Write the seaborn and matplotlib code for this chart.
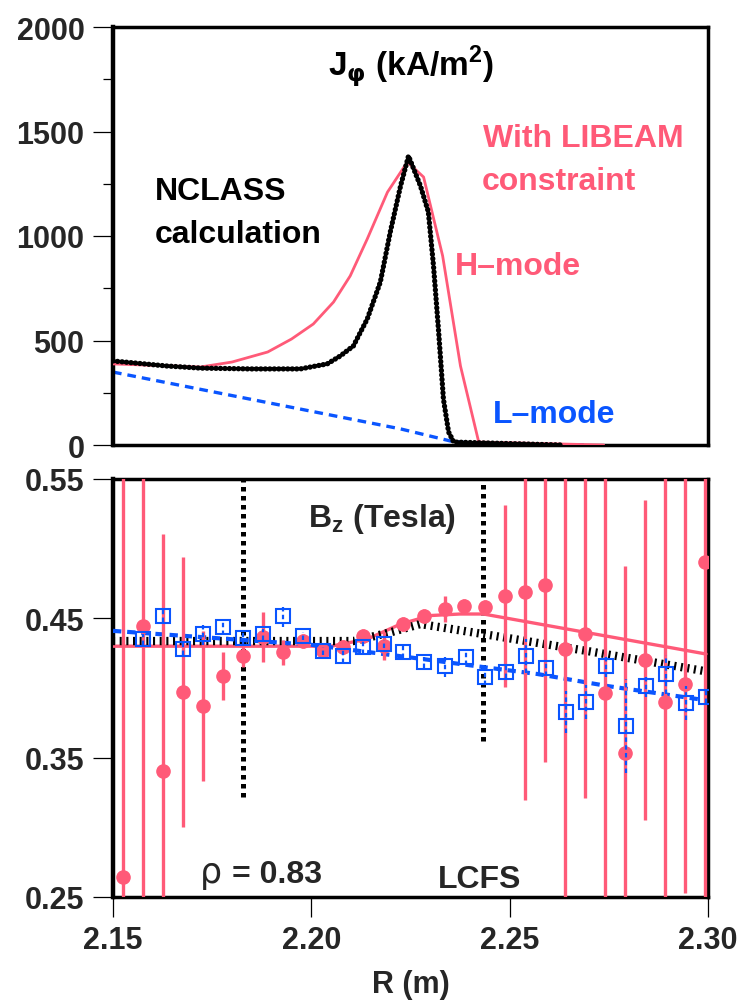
import numpy as np
import pandas as pd
import matplotlib
matplotlib.use("Agg")
import matplotlib.pyplot as plt
from matplotlib import font_manager
from matplotlib.ticker import MultipleLocator, FixedLocator
import seaborn as sns

# ---------------- upper panel: J_phi (kA/m^2) versus R (m) ----------------
r_hmode = [2.1500, 2.1720, 2.1800, 2.1890, 2.1950, 2.2005, 2.2056, 2.2098,
           2.2141, 2.2192, 2.2242, 2.2283, 2.2331, 2.2376, 2.2422, 2.2737]
j_hmode = [388, 373, 397, 445, 507, 579, 684, 809,
           986, 1210, 1354, 1282, 905, 378, 14, 0]

r_nclass = [2.1500, 2.1636, 2.1720, 2.1846, 2.1972, 2.2040, 2.2073, 2.2106,
            2.2141, 2.2174, 2.2199, 2.2225, 2.2245, 2.2275, 2.2295, 2.2308,
            2.2321, 2.2333, 2.2346, 2.2359, 2.2629]
j_nclass = [402, 378, 368, 364, 364, 388, 426, 474,
            603, 780, 1019, 1240, 1383, 1240, 1115, 857,
            540, 220, 62, 14, 0]

r_lmode = [2.1500, 2.1972, 2.2225, 2.2351, 2.2420, 2.2697]
j_lmode = [349, 172, 77, 19, 5, 0]

# ---------------- lower panel: B_z (Tesla) versus R (m) ----------------
r_libeam = [2.1525, 2.1576, 2.1626, 2.1677, 2.1727, 2.1778, 2.1828, 2.1879,
            2.1929, 2.1980, 2.2030, 2.2081, 2.2131, 2.2182, 2.2232, 2.2283,
            2.2336, 2.2386, 2.2437, 2.2487, 2.2538, 2.2588, 2.2639, 2.2689,
            2.2740, 2.2790, 2.2841, 2.2891, 2.2942, 2.2992]
b_libeam = [0.264, 0.4445, 0.3404, 0.397, 0.387, 0.4086, 0.423, 0.4366,
            0.4258, 0.4337, 0.4265, 0.4294, 0.4373, 0.4301, 0.4459, 0.4517,
            0.4567, 0.4588, 0.4581, 0.466, 0.4689, 0.4739, 0.428, 0.4387,
            0.3964, 0.3533, 0.420, 0.390, 0.4028, 0.4904]
err_libeam = [0.30, 0.22, 0.17, 0.097, 0.054, 0.017, 0.008, 0.018,
              0.009, 0.005, 0.005, 0.005, 0.005, 0.010, 0.005, 0.005,
              0.009, 0.005, 0.005, 0.065, 0.149, 0.127, 0.20, 0.118,
              0.20, 0.134, 0.115, 0.20, 0.150, 0.25]

r_mse = [2.1576, 2.1626, 2.1677, 2.1727, 2.1778, 2.1828, 2.1879, 2.1929,
         2.1980, 2.2030, 2.2081, 2.2131, 2.2182, 2.2232, 2.2283, 2.2338,
         2.2389, 2.2439, 2.2490, 2.2540, 2.2591, 2.2641, 2.2692, 2.2742,
         2.2793, 2.2843, 2.2894, 2.2944, 2.2995]
b_mse = [0.435, 0.4517, 0.428, 0.4387, 0.4437, 0.4358, 0.4387, 0.4517,
         0.4373, 0.4265, 0.423, 0.4294, 0.4315, 0.4258, 0.4186, 0.4158,
         0.4222, 0.4079, 0.4115, 0.423, 0.4143, 0.3827, 0.3899, 0.4158,
         0.3727, 0.4014, 0.410, 0.3892, 0.3935]
err_mse = [0.004, 0.004, 0.004, 0.008, 0.006, 0.005, 0.004, 0.008,
           0.003, 0.003, 0.005, 0.005, 0.003, 0.004, 0.004, 0.008,
           0.006, 0.006, 0.004, 0.012, 0.006, 0.015, 0.012, 0.008,
           0.034, 0.008, 0.014, 0.012, 0.004]

r_fit_h = [2.1500, 2.2050, 2.2141, 2.2225, 2.2300, 2.2375, 2.2434, 2.2995]
b_fit_h = [0.430, 0.430, 0.4351, 0.4459, 0.4520, 0.4531, 0.4531, 0.4244]

r_fit_nc = [2.1500, 2.2106, 2.2200, 2.2275, 2.2434, 2.2697, 2.2990]
b_fit_nc = [0.4337, 0.4337, 0.4400, 0.4459, 0.4387, 0.4265, 0.4122]

r_fit_l = [2.1500, 2.2000, 2.2275, 2.2434, 2.2571, 2.2747, 2.2975]
b_fit_l = [0.441, 0.431, 0.421, 0.415, 0.410, 0.4014, 0.392]

r_markers = [2.1828, 2.2434]          # rho = 0.83 and LCFS positions
marker_bottom = [0.322, 0.362]

x_ticks = [2.15, 2.20, 2.25, 2.30]
x_ticklabels = ["2.15", "2.20", "2.25", "2.30"]
j_ticks = [0, 500, 1000, 1500, 2000]
b_ticks = [0.25, 0.35, 0.45, 0.55]
b_ticklabels = ["0.25", "0.35", "0.45", "0.55"]

PINK = "#FF5A78"
BLUE = "#0A55FF"

sns.set_theme(style="ticks")

def pick_family():
    for fam in ["Liberation Sans Narrow", "Liberation Sans", "DejaVu Sans"]:
        try:
            font_manager.findfont(font_manager.FontProperties(family=fam),
                                  fallback_to_default=False)
            return fam
        except Exception:
            continue
    return "DejaVu Sans"

FAM = pick_family()
NARROW = FAM == "Liberation Sans Narrow"
# font sizes chosen per family so text widths stay the same
TICK_FS = 25 if NARROW else 22
NOTE_FS = 27 if NARROW else 23

plt.rcParams["font.family"] = [FAM, "DejaVu Sans"]
plt.rcParams["font.weight"] = "bold"
plt.rcParams["mathtext.fontset"] = "dejavusans"

fig = plt.figure(figsize=(7.52, 10.04), dpi=100)
ax1 = fig.add_axes([113 / 752, 1 - 446 / 1004, 595 / 752, 418 / 1004])
ax2 = fig.add_axes([113 / 752, 1 - 898 / 1004, 595 / 752, 418 / 1004], sharex=ax1)

# ---- upper panel curves
df_h = pd.DataFrame({"R": r_hmode, "J": j_hmode})
df_n = pd.DataFrame({"R": r_nclass, "J": j_nclass})
df_l = pd.DataFrame({"R": r_lmode, "J": j_lmode})

sns.lineplot(data=df_l, x="R", y="J", ax=ax1, color=BLUE, lw=2.4,
             linestyle=(0, (2.6, 1.8)), zorder=2)
sns.lineplot(data=df_h, x="R", y="J", ax=ax1, color=PINK, lw=2.0, zorder=3)
sns.lineplot(data=df_n, x="R", y="J", ax=ax1, color="black", lw=3.8,
             linestyle=(0, (0.05, 0.8)), dash_capstyle="round", zorder=4)

ax1.set_xlim(2.15, 2.30)
ax1.set_ylim(0, 2000)
ax1.yaxis.set_major_locator(FixedLocator(j_ticks))
ax1.yaxis.set_minor_locator(MultipleLocator(250))
ax1.set_yticklabels([str(v) for v in j_ticks])
ax1.tick_params(axis="x", which="both", bottom=False, labelbottom=False)
ax1.set_xlabel("")
ax1.set_ylabel("")

ax1.text(0.501, 0.8876, r"J$_{\mathrm{\varphi}}$ (kA/m$^{\mathregular{2}}$)",
         transform=ax1.transAxes, ha="center", va="baseline", fontsize=24,
         fontweight="bold", color="black")
ax1.text(0.0706, 0.5885, "NCLASS", transform=ax1.transAxes, ha="left",
         va="baseline", fontsize=NOTE_FS, fontweight="bold", color="black")
ax1.text(0.0706, 0.4856, "calculation", transform=ax1.transAxes, ha="left",
         va="baseline", fontsize=NOTE_FS, fontweight="bold", color="black")
ax1.text(0.622, 0.7153, "With LIBEAM", transform=ax1.transAxes, ha="left",
         va="baseline", fontsize=NOTE_FS, fontweight="bold", color=PINK)
ax1.text(0.619, 0.6124, "constraint", transform=ax1.transAxes, ha="left",
         va="baseline", fontsize=NOTE_FS, fontweight="bold", color=PINK)
ax1.text(0.5748, 0.409, "H\u2013mode", transform=ax1.transAxes, ha="left",
         va="baseline", fontsize=NOTE_FS, fontweight="bold", color=PINK)
ax1.text(0.6387, 0.055, "L\u2013mode", transform=ax1.transAxes, ha="left",
         va="baseline", fontsize=NOTE_FS, fontweight="bold", color=BLUE)

# ---- lower panel curves and measurements
df_fh = pd.DataFrame({"R": r_fit_h, "B": b_fit_h})
df_fn = pd.DataFrame({"R": r_fit_nc, "B": b_fit_nc})
df_fl = pd.DataFrame({"R": r_fit_l, "B": b_fit_l})

sns.lineplot(data=df_fh, x="R", y="B", ax=ax2, color=PINK, lw=2.4, zorder=3)
sns.lineplot(data=df_fn, x="R", y="B", ax=ax2, color="black", lw=6,
             linestyle=(0, (0.25, 0.55)), dash_capstyle="butt", zorder=3)
sns.lineplot(data=df_fl, x="R", y="B", ax=ax2, color=BLUE, lw=3.0,
             linestyle=(0, (2.0, 1.4)), zorder=3)

for rm, bb in zip(r_markers, marker_bottom):
    ax2.plot([rm, rm], [bb, 0.55], color="black", lw=3.6,
             linestyle=(0, (0.9, 0.9)), zorder=2)

ax2.errorbar(r_libeam, b_libeam, yerr=err_libeam, fmt="o", color=PINK,
             ms=9.5, elinewidth=2.4, capsize=0, zorder=5)
eb = ax2.errorbar(r_mse, b_mse, yerr=err_mse, fmt="s", mfc="none",
                  mec=BLUE, mew=1.5, ms=10, color=BLUE, elinewidth=1.6,
                  capsize=0, zorder=6)
eb[2][0].set_linestyle((0, (2.0, 1.5)))

ax2.set_xlim(2.15, 2.30)
ax2.set_ylim(0.25, 0.55)
ax2.xaxis.set_major_locator(FixedLocator(x_ticks))
ax2.set_xticklabels(x_ticklabels)
ax2.yaxis.set_major_locator(FixedLocator(b_ticks))
ax2.set_yticklabels(b_ticklabels)
ax2.set_xlabel("R (m)", fontsize=TICK_FS, fontweight="bold", labelpad=10)
ax2.set_ylabel("")

ax2.text(0.328, 0.8876, r"B$_{\mathregular{z}}$ (Tesla)", transform=ax2.transAxes,
         ha="left", va="baseline", fontsize=NOTE_FS, fontweight="bold")
ax2.text(0.146, 0.0359, "\u03c1", transform=ax2.transAxes, ha="left",
         va="baseline", fontsize=NOTE_FS + 2, fontweight="normal",
         family=["DejaVu Sans"])
ax2.text(0.2, 0.0359, "= 0.83", transform=ax2.transAxes, ha="left",
         va="baseline", fontsize=NOTE_FS, fontweight="bold")
ax2.text(0.546, 0.0239, "LCFS", transform=ax2.transAxes, ha="left",
         va="baseline", fontsize=NOTE_FS, fontweight="bold")

for ax in (ax1, ax2):
    for side in ("left", "right", "top", "bottom"):
        ax.spines[side].set_visible(True)
        ax.spines[side].set_color("black")
        ax.spines[side].set_linewidth(2.5)
    ax.spines["left"].set_linewidth(3.2)
    ax.tick_params(axis="both", which="major", direction="out", length=14.5,
                   width=0.9, color="black", labelsize=TICK_FS, pad=6)
    ax.tick_params(axis="y", which="minor", direction="out", length=7.2,
                   width=0.9, color="black")
    ax.tick_params(right=False, top=False)
    for lab in ax.get_yticklabels() + ax.get_xticklabels():
        lab.set_fontweight("bold")
    ax.set_facecolor("white")
    ax.grid(False)

fig.savefig("out.png", dpi=100, facecolor="white")
